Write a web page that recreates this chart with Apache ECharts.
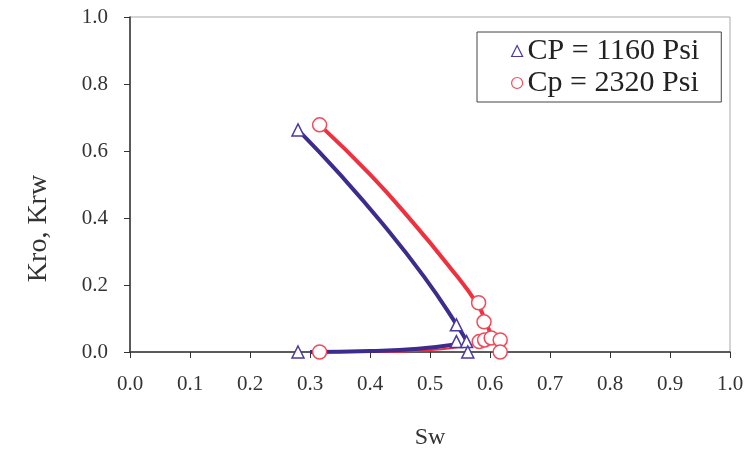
<!DOCTYPE html>
<html><head><meta charset="utf-8">
<script src="https://cdn.jsdelivr.net/npm/echarts@6/dist/echarts.min.js"></script>
<style>html,body{margin:0;padding:0;background:#fff}#c{width:749px;height:459px}</style>
</head><body><div id="c"></div>
<script>
// Measured points, CP = 1160 Psi (triangles)
const cp1160Points = [[0.28,0.663],[0.544,0.081],[0.544,0.031],[0.561,0.031],[0.563,0.0],[0.28,0.0]];
// Measured points, Cp = 2320 Psi (circles)
const cp2320Points = [[0.316,0.678],[0.581,0.147],[0.59,0.09],[0.582,0.031],[0.591,0.036],[0.602,0.042],[0.617,0.036],[0.617,0.0],[0.316,0.0]];
// Fitted curves
const cp1160Kro = [[0.28,0.663],[0.35,0.53],[0.42,0.385],[0.49,0.225],[0.545,0.08],[0.565,0.02]];
const cp1160Krw = [[0.30,0.0],[0.40,0.003],[0.48,0.01],[0.548,0.024]];
const cp2320Kro = [[0.316,0.678],[0.40,0.53],[0.47,0.39],[0.53,0.26],[0.58,0.14],[0.595,0.08],[0.605,0.04]];
const cp2320Krw = [[0.33,-0.002],[0.42,0.0],[0.52,0.008],[0.585,0.028]];
const xTicks = [0,0.1,0.2,0.3,0.4,0.5,0.6,0.7,0.8,0.9,1.0];
const yTicks = [0,0.2,0.4,0.6,0.8,1.0];
const names = ['CP = 1160 Psi','Cp = 2320 Psi'];

const purple = '#3d2b8e', red = '#f0303f';
const serif = '"Liberation Serif","DejaVu Serif",serif';
const chart = echarts.init(document.getElementById('c'));
chart.setOption({
  animation:false,
  grid:{left:130,right:19,top:17,bottom:107,show:true,borderColor:'#a9a9a9',borderWidth:1},
  legend:{
    data:names, orient:'vertical', left:477, top:32,
    borderColor:'#444', borderWidth:1, padding:[4,22,4,34], itemGap:2,
    itemWidth:11, itemHeight:11, itemStyle:{borderWidth:1.2},
    textStyle:{fontFamily:serif,fontSize:30,color:'#222'}
  },
  xAxis:{type:'value',min:0,max:1,interval:0.1,name:'Sw',nameLocation:'middle',nameGap:74,
    nameTextStyle:{fontFamily:serif,fontSize:24,color:'#333'},
    axisLine:{lineStyle:{color:'#333',width:1.5}},
    axisTick:{show:true,length:6,lineStyle:{color:'#333'}},
    axisLabel:{fontFamily:serif,fontSize:21,color:'#333',margin:22,formatter:v=>v.toFixed(1)},
    splitLine:{show:false}},
  yAxis:{type:'value',min:0,max:1,interval:0.2,name:'Kro, Krw',nameLocation:'middle',nameGap:77,
    nameTextStyle:{fontFamily:serif,fontSize:28,color:'#333',padding:[0,88,0,0]},
    axisLine:{show:true,lineStyle:{color:'#333',width:1.5}},
    axisTick:{show:true,length:6,lineStyle:{color:'#333'}},
    axisLabel:{fontFamily:serif,fontSize:21,color:'#333',margin:22,formatter:v=>v.toFixed(1)},
    splitLine:{show:false}},
  series:[
    {type:'line',data:cp1160Kro,smooth:true,showSymbol:false,lineStyle:{color:purple,width:4},z:2,silent:true},
    {type:'line',data:cp1160Krw,smooth:true,showSymbol:false,lineStyle:{color:purple,width:4},z:2,silent:true},
    {type:'line',data:cp2320Kro,smooth:true,showSymbol:false,lineStyle:{color:red,width:4},z:2,silent:true},
    {type:'line',data:cp2320Krw,smooth:true,showSymbol:false,lineStyle:{color:red,width:2},z:1,silent:true},
    {name:names[0],type:'scatter',data:cp1160Points,symbol:'triangle',symbolSize:12,
      itemStyle:{color:'#fff',borderColor:'#4a3aa0',borderWidth:1.5,opacity:1},z:5},
    {name:names[1],type:'scatter',data:cp2320Points,symbol:'circle',symbolSize:14,
      itemStyle:{color:'#fff',borderColor:'#f04a5a',borderWidth:1.5,opacity:1},z:6}
  ]
});
</script></body></html>
